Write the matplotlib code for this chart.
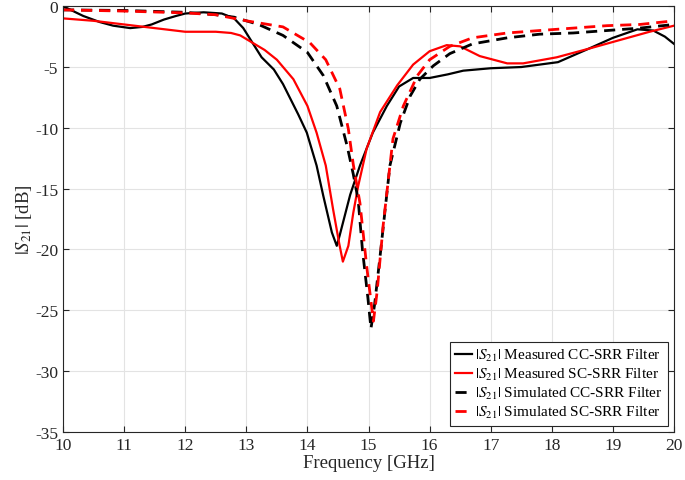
import matplotlib
matplotlib.use("Agg")
import matplotlib.pyplot as plt

# Measured CC-SRR filter
meas_cc_f = [10.0, 10.33, 10.6, 10.82, 11.1, 11.3, 11.45, 11.65, 11.85, 12.0,
             12.3, 12.6, 12.8, 12.95, 13.1, 13.25, 13.45, 13.6, 13.72, 13.85,
             13.99, 14.15, 14.26, 14.4, 14.48, 14.53, 14.7, 14.86, 15.07, 15.3,
             15.5, 15.73, 16.0, 16.3, 16.55, 17.0, 17.5, 18.1, 18.6, 19.0,
             19.4, 19.66, 19.85, 20.0]
meas_cc_db = [0.0, -0.8, -1.3, -1.6, -1.8, -1.7, -1.5, -1.1, -0.8, -0.6,
              -0.5, -0.6, -1.0, -1.8, -3.0, -4.2, -5.2, -6.4, -7.6, -8.9,
              -10.4, -13.1, -15.6, -18.6, -19.7, -18.8, -15.5, -13.1, -10.4, -8.2,
              -6.6, -5.9, -5.9, -5.6, -5.3, -5.1, -5.0, -4.6, -3.5, -2.6,
              -1.9, -2.0, -2.5, -3.1]

# Measured SC-SRR filter
meas_sc_f = [10.0, 10.5, 11.0, 11.5, 12.0, 12.5, 12.75, 12.9, 13.1, 13.3,
             13.5, 13.77, 14.0, 14.15, 14.3, 14.42, 14.52, 14.58, 14.67, 14.75,
             14.83, 14.97, 15.19, 15.47, 15.73, 16.0, 16.28, 16.5, 16.82, 17.27,
             17.53, 18.08, 18.6, 19.17, 19.6, 20.0]
meas_sc_db = [-1.0, -1.2, -1.5, -1.8, -2.1, -2.1, -2.2, -2.4, -3.0, -3.6,
              -4.4, -6.0, -8.2, -10.4, -13.1, -16.7, -19.5, -21.0, -19.7, -17.0,
              -14.8, -11.7, -8.7, -6.5, -4.8, -3.7, -3.2, -3.3, -4.1, -4.7,
              -4.7, -4.2, -3.5, -2.7, -2.1, -1.6]

# Simulated CC-SRR filter
sim_cc_f = [10.0, 11.0, 12.0, 12.5, 12.8, 13.2, 13.6, 14.0, 14.26, 14.48,
            14.65, 14.75, 14.83, 14.9, 14.99, 15.04, 15.1, 15.19, 15.35, 15.52,
            15.68, 15.84, 16.06, 16.33, 16.7, 17.27, 17.8, 18.35, 18.9, 19.44,
            20.0]
sim_cc_db = [-0.3, -0.35, -0.5, -0.7, -0.9, -1.5, -2.4, -3.8, -5.7, -8.2,
             -11.5, -13.8, -15.9, -20.0, -24.0, -26.5, -24.5, -20.5, -13.1, -9.6,
             -7.4, -6.0, -4.9, -3.9, -3.1, -2.6, -2.3, -2.2, -2.0, -1.8,
             -1.5]

# Simulated SC-SRR filter
sim_sc_f = [10.0, 11.0, 12.0, 12.5, 13.0, 13.6, 14.04, 14.3, 14.53, 14.67,
            14.75, 14.86, 14.97, 15.08, 15.14, 15.24, 15.4, 15.57, 15.8, 16.0,
            16.33, 16.7, 17.27, 17.8, 18.35, 18.9, 19.44, 20.0]
sim_sc_db = [-0.3, -0.4, -0.55, -0.7, -1.2, -1.7, -3.0, -4.4, -6.8, -10.1,
             -13.0, -16.2, -21.4, -25.9, -23.5, -18.0, -10.9, -8.2, -5.7, -4.4,
             -3.3, -2.6, -2.2, -2.0, -1.8, -1.6, -1.5, -1.2]

labels = [r"$|S_{21}|$ Measured CC-SRR Filter",
          r"$|S_{21}|$ Measured SC-SRR Filter",
          r"$|S_{21}|$ Simulated CC-SRR Filter",
          r"$|S_{21}|$ Simulated SC-SRR Filter"]

plt.rcParams["font.family"] = ["Liberation Serif", "DejaVu Serif"]
plt.rcParams["mathtext.fontset"] = "stix"
plt.rcParams["axes.unicode_minus"] = False

fig = plt.figure(figsize=(6.85, 4.81), dpi=100)
ax = fig.add_axes([0.092, 0.100, 0.892, 0.885])

ax.plot(meas_cc_f, meas_cc_db, color="black", lw=1.6, label=labels[0])
ax.plot(meas_sc_f, meas_sc_db, color="#ff0000", lw=1.6, label=labels[1])
ax.plot(sim_cc_f, sim_cc_db, color="black", lw=2.0, ls=(0, (4, 2.5)),
        label=labels[2])
ax.plot(sim_sc_f, sim_sc_db, color="#ff0000", lw=2.0, ls=(0, (4, 2.5)),
        label=labels[3])

ax.set_xlim(10, 20)
ax.set_ylim(-35, 0)
ax.set_xticks(range(10, 21))
ax.set_yticks(range(-35, 1, 5))
ax.grid(True, color="#e3e3e3", lw=0.8)
ax.set_axisbelow(True)
ax.tick_params(direction="in", top=True, right=True, labelsize=12.5,
               colors="#262626", length=4)
for s in ax.spines.values():
    s.set_color("#262626")
    s.set_linewidth(0.8)

ax.set_xlabel("Frequency [GHz]", fontsize=13.5, color="#262626", labelpad=1)
ax.set_ylabel(r"$|S_{21}|$ [dB]", fontsize=13.5, color="#262626", labelpad=1)

leg = ax.legend(loc="lower right", fontsize=11, handlelength=1.1,
                handletextpad=0.2, borderpad=0.35, labelspacing=0.2,
                fancybox=False, framealpha=1, edgecolor="#262626",
                borderaxespad=0.4)
leg.get_frame().set_linewidth(0.8)

fig.savefig("out.png", dpi=100)
